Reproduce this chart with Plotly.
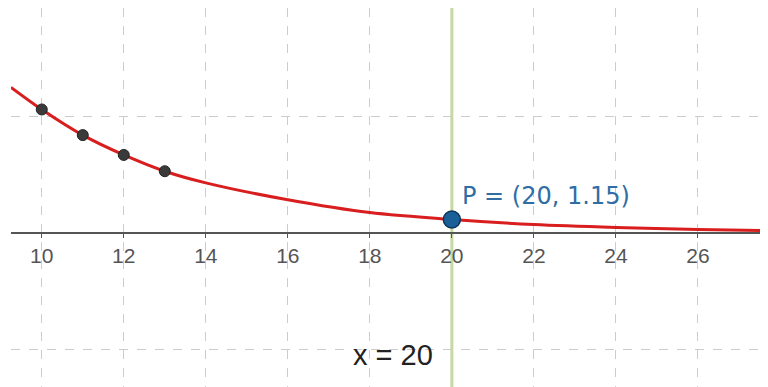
"""Exponential decay curve with sample points and P = (20, 1.15), GeoGebra style."""
import plotly.graph_objects as go

# curve
curve_x = [9.25, 10, 11, 12, 13, 14, 16, 18, 20, 22, 24, 26, 27.66]
curve_y = [12.5, 10.6, 8.4, 6.7, 5.3, 4.3, 2.85, 1.75, 1.15, 0.72, 0.47, 0.3, 0.2]

# black sample points
pts_x = [10, 11, 12, 13]
pts_y = [10.6, 8.4, 6.7, 5.3]

# highlighted point
p_x = 20
p_y = 1.15

x_ticks = [10, 12, 14, 16, 18, 20, 22, 24, 26]
y_grid = [-10, 0, 10]

x_range = [9.25, 27.66]
y_range = [-13.22, 19.31]

fig = go.Figure()

fig.add_trace(go.Scatter(
    x=curve_x, y=curve_y,
    mode="lines",
    line=dict(color="#d81e1e", width=3, shape="spline", smoothing=0.8),
    hoverinfo="skip",
))

fig.add_trace(go.Scatter(
    x=pts_x, y=pts_y,
    mode="markers",
    marker=dict(size=11, color="#3a3a3a", line=dict(color="#222222", width=1)),
    hoverinfo="skip",
))

fig.add_trace(go.Scatter(
    x=[p_x], y=[p_y],
    mode="markers",
    marker=dict(size=17, color="#1b5f99", line=dict(color="#0f3558", width=1.5)),
    hoverinfo="skip",
))

# vertical line x = 20
fig.add_shape(
    type="line",
    x0=p_x, x1=p_x, y0=0, y1=1, yref="paper",
    line=dict(color="#c6d9a2", width=3),
    layer="between",
)

fig.add_annotation(
    x=p_x + 0.2, y=3.2,
    text=f"P = ({p_x}, {p_y})",
    showarrow=False,
    xanchor="left", yanchor="middle",
    font=dict(family="DejaVu Sans", size=24, color="#2f6ea5"),
)

fig.add_annotation(
    x=18.56, y=-10.5,
    text=f"x = {p_x}",
    showarrow=False,
    xanchor="center", yanchor="middle",
    font=dict(family="Liberation Sans", size=29, color="#222222"),
)

zero_pos = (0 - y_range[0]) / (y_range[1] - y_range[0])

# the page body adds 8px on the left and top, so the figure is 8px smaller
fig.update_layout(
    width=760,
    height=379,
    margin=dict(l=3, r=2, t=0, b=0),
    paper_bgcolor="white",
    plot_bgcolor="white",
    showlegend=False,
    xaxis=dict(
        range=x_range,
        tickvals=x_ticks,
        ticktext=[str(v) for v in x_ticks],
        showgrid=True,
        gridcolor="#cccccc",
        griddash="dash",
        gridwidth=1,
        zeroline=False,
        showline=True,
        linecolor="#555555",
        linewidth=2,
        ticks="outside",
        ticklen=4,
        tickcolor="#555555",
        anchor="free",
        position=zero_pos,
        ticklabelstandoff=0,
        tickfont=dict(family="Liberation Sans", size=21, color="#555555"),
        automargin=False,
    ),
    yaxis=dict(
        range=y_range,
        tickvals=y_grid,
        showticklabels=False,
        showgrid=True,
        gridcolor="#cccccc",
        griddash="dash",
        gridwidth=1,
        zeroline=False,
        showline=False,
        automargin=False,
    ),
)

fig.write_html("out.html", config={"displayModeBar": False})
